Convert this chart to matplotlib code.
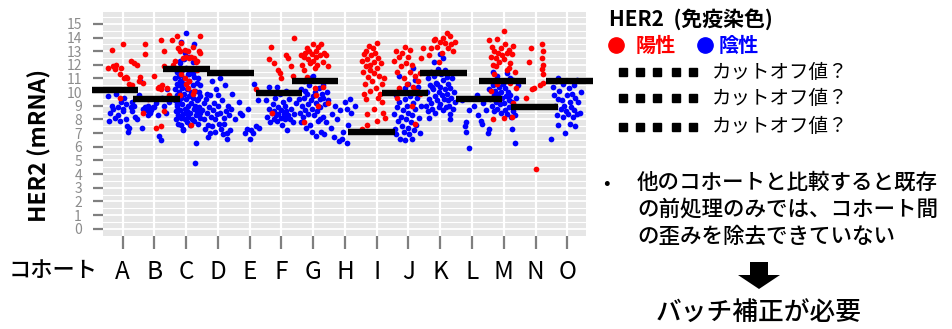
import matplotlib
matplotlib.use('Agg')
import matplotlib.pyplot as plt
from matplotlib.lines import Line2D
from matplotlib.patches import Polygon

plt.rcParams['font.family'] = ['Noto Sans CJK JP', 'DejaVu Sans']

cohorts = list("ABCDEFGHIJKLMNO")
y_ticks = list(range(16))

# each point: (horizontal jitter within cohort, HER2 mRNA value)
red_A = [(-0.45,11.8),(-0.35,13.1),(-0.3,11.9),(-0.25,11.7),(-0.2,12.0),(-0.1,11.3),(0.0,13.5),(-0.05,11.8),
         (0.05,11.0),(0.1,11.1),(0.15,11.0),(0.2,10.6),(0.25,12.3),(0.35,12.1),(0.45,12.0),(-0.1,9.6),(0.3,10.5)]
blue_A = [(-0.45,9.7),(-0.4,8.5),(-0.42,7.9),(-0.3,8.8),(-0.25,8.1),(-0.2,9.9),(-0.15,8.9),(-0.1,7.9),(-0.05,9.3),
          (0.0,8.6),(0.02,8.8),(0.05,9.6),(0.1,9.1),(0.15,7.5),(0.18,7.1),(0.2,7.4),(0.25,8.9),(0.3,8.6),(0.35,9.0),
          (0.4,8.2),(0.45,8.0),(0.5,9.8),(-0.35,9.0),(-0.15,8.3),(0.1,8.0),(0.3,9.3)]
red_B = [(-0.3,13.5),(-0.3,12.8),(0.2,13.8),(0.3,13.0),(-0.45,11.1),(-0.35,10.7),(0.0,11.2),(0.1,10.3),(0.15,10.4),
         (0.2,10.2),(0.25,10.5),(0.3,11.9),(0.4,10.3),(-0.2,9.5),(-0.35,8.5),(0.05,7.4),(0.2,7.5),(0.3,8.6),(0.45,9.8),(-0.5,10.8)]
blue_B = [(-0.45,10.8),(-0.4,7.4),(-0.35,8.8),(-0.3,8.9),(-0.25,8.7),(-0.2,9.0),(-0.15,8.5),(-0.1,8.7),(-0.05,8.9),
          (0.0,8.9),(0.05,9.2),(0.1,8.3),(0.15,6.8),(0.2,6.5),(0.25,9.6),(0.3,9.0),(0.35,8.5),(0.4,10.2),(0.45,9.3),
          (-0.2,8.3),(0.1,9.5)]
red_C = [(-0.45,13.8),(-0.3,14.1),(-0.25,13.2),(-0.2,13.0),(-0.15,13.6),(-0.1,12.5),(-0.05,13.1),(0.0,12.6),(0.05,13.0),
         (0.1,12.5),(0.15,12.6),(0.2,13.3),(0.25,12.5),(0.35,12.3),(0.4,13.0),(0.45,14.1),(0.42,12.9),(-0.35,12.3),
         (0.3,12.2),(-0.05,11.0),(0.0,10.6),(0.05,10.3),(0.1,10.8),(0.2,9.9),(0.25,10.1),(-0.2,9.8),(0.15,7.6),
         (-0.15,11.3),(0.35,11.6),(-0.4,12.0)]
blue_C = [(-0.35,11.0),(-0.35,10.2),(-0.34,9.4),(-0.33,8.6),(-0.32,8.0),(-0.3,11.5),(-0.3,10.6),(-0.29,9.8),(-0.28,9.0),
          (-0.27,8.3),(-0.25,7.7),(-0.24,11.2),(-0.23,10.0),(-0.22,9.3),(-0.2,8.7),(-0.2,12.1),(-0.18,10.8),(-0.17,9.6),
          (-0.16,8.1),(-0.15,7.6),(-0.14,11.6),(-0.13,10.3),(-0.12,9.1),(-0.1,8.4),(-0.1,7.3),(-0.08,12.4),(-0.07,11.0),
          (-0.06,9.9),(-0.05,8.8),(-0.04,8.0),(-0.02,10.6),(0.0,11.8),(0.0,9.5),(0.01,8.6),(0.02,7.8),(0.03,10.2),
          (0.05,11.3),(0.06,9.0),(0.07,8.2),(0.08,12.6),(0.1,10.8),(0.1,9.7),(0.12,8.5),(0.13,7.6),(0.14,11.5),(0.15,10.0),
          (0.16,9.2),(0.18,8.0),(0.2,12.2),(0.2,10.5),(0.22,9.6),(0.23,8.8),(0.25,7.9),(0.26,11.1),(0.28,10.1),(0.29,9.0),
          (0.3,8.3),(0.32,11.7),(0.33,10.7),(0.34,9.4),(0.35,8.6),(0.36,7.7),(0.38,11.0),(0.4,10.0),(0.4,8.9),(0.42,8.1),
          (0.43,9.7),(0.45,10.5),(0.45,8.5),(0.0,14.3),(-0.15,13.7),(0.25,13.5),(-0.05,12.9),(-0.18,12.3),(0.3,6.3),
          (0.27,4.8),(-0.1,7.2),(0.1,11.3),(-0.25,10.5),(0.2,11.4),(-0.3,9.1),(0.05,8.4),(0.38,9.5),(-0.12,10.7)]
red_D = []
blue_D = [(-0.5,8.7),(-0.45,9.2),(-0.45,8.0),(-0.4,7.3),(-0.38,9.5),(-0.35,8.5),(-0.32,7.6),(-0.3,6.7),(-0.28,8.9),
          (-0.25,9.8),(-0.22,8.2),(-0.2,10.8),(-0.18,7.5),(-0.15,8.7),(-0.12,9.2),(-0.1,8.0),(-0.08,7.1),(-0.05,10.2),
          (-0.03,8.4),(0.0,9.0),(0.02,7.7),(0.05,11.0),(0.08,8.5),(0.1,7.3),(0.12,9.4),(0.15,6.9),(0.18,8.1),(0.2,7.7),
          (0.22,10.5),(0.25,8.6),(0.3,7.0),(0.32,9.0),(0.35,8.3),(0.38,7.2),(0.42,8.8),(0.45,9.9),(-0.25,7.0),(0.28,6.6),
          (0.0,9.8),(-0.35,9.9)]
red_E = [(0.2,10.2)]
blue_E = [(-0.35,9.3),(-0.3,8.5),(-0.25,8.3),(-0.15,7.0),(-0.1,7.3),(-0.05,8.8),(0.0,6.6),(0.05,7.2),(0.1,7.0),
          (0.12,10.6),(0.2,7.5),(0.25,9.4),(-0.45,8.0),(0.3,7.4)]
red_F = [(-0.33,13.3),(-0.4,12.4),(-0.25,12.1),(0.2,12.5),(-0.1,11.6),(-0.05,11.4),(0.0,11.0),(0.3,11.9),(0.4,13.95),
         (-0.3,8.5),(0.15,12.7),(0.35,11.2)]
blue_F = [(-0.5,9.4),(-0.45,8.2),(-0.4,10.4),(-0.38,8.8),(-0.35,7.8),(-0.3,8.5),(-0.28,9.1),(-0.25,8.0),(-0.22,8.6),
          (-0.2,9.6),(-0.18,8.3),(-0.15,7.9),(-0.12,8.9),(-0.1,8.4),(-0.05,9.9),(-0.03,8.1),(0.0,8.7),(0.03,7.6),
          (0.05,9.3),(0.08,8.4),(0.1,8.0),(0.13,10.1),(0.15,8.6),(0.18,7.2),(0.2,8.3),(0.25,9.5),(0.28,8.0),(0.3,8.8),
          (0.35,7.8),(0.4,8.4),(0.45,9.2),(-0.15,10.4),(0.1,9.0)]
red_G = [(-0.4,12.7),(-0.35,12.0),(-0.3,12.6),(-0.25,12.9),(-0.2,13.2),(-0.15,12.4),(-0.12,13.0),(-0.1,12.1),
         (-0.05,12.8),(0.0,13.5),(0.0,12.3),(0.05,11.8),(0.08,13.0),(0.1,12.6),(0.12,12.0),(0.15,13.3),(0.2,12.7),
         (0.25,13.5),(0.3,12.2),(0.35,12.9),(0.4,12.7),(0.45,11.9),(-0.3,11.6),(0.05,10.3),(0.1,9.8),(0.15,9.0),
         (-0.3,7.8),(0.3,10.4),(0.45,9.2),(-0.2,11.1)]
blue_G = [(-0.45,9.5),(-0.42,8.5),(-0.4,7.8),(-0.38,10.2),(-0.35,9.0),(-0.32,8.2),(-0.3,10.8),(-0.28,9.6),(-0.25,8.7),
          (-0.22,7.4),(-0.2,9.9),(-0.18,9.1),(-0.15,8.4),(-0.12,10.5),(-0.1,7.6),(-0.08,9.4),(-0.05,8.8),(-0.03,7.1),
          (0.0,9.7),(0.02,8.3),(0.05,10.0),(0.08,6.8),(0.1,9.2),(0.12,8.6),(0.15,7.9),(0.18,10.3),(0.2,9.5),(0.22,8.9),
          (0.25,7.1),(0.28,9.9),(0.3,8.2),(0.32,9.6),(0.35,6.9),(0.38,9.1),(0.4,7.8),(0.42,10.0),(0.45,9.4),(0.0,11.2),
          (-0.1,11.0),(0.2,8.0),(-0.25,10.1),(0.3,10.5)]
red_H = []
blue_H = [(-0.45,7.4),(-0.4,8.4),(-0.35,6.7),(-0.3,9.0),(-0.25,8.0),(-0.2,6.4),(-0.15,8.7),(-0.1,6.6),(0.0,9.3),
          (0.05,8.8),(0.1,7.6),(0.15,9.5),(0.2,8.5),(0.3,9.0),(-0.05,7.1),(0.05,6.3)]
red_I = [(-0.45,12.3),(-0.42,11.5),(-0.4,12.8),(-0.38,10.6),(-0.35,11.9),(-0.33,13.0),(-0.3,12.4),(-0.28,11.1),
         (-0.25,13.4),(-0.22,12.0),(-0.2,11.6),(-0.18,12.7),(-0.15,10.8),(-0.12,13.2),(-0.1,12.2),(-0.08,11.4),
         (-0.05,12.9),(-0.03,10.3),(0.0,11.8),(0.02,13.6),(0.05,12.5),(0.08,11.2),(0.1,9.9),(0.12,12.1),(0.15,10.6),
         (0.18,9.3),(0.2,8.5),(0.22,11.0),(0.25,8.1),(-0.4,9.9),(-0.35,9.5),(-0.3,8.4),(-0.45,7.3),(-0.3,7.6),
         (-0.1,8.8),(0.0,7.9),(-0.2,10.1),(0.05,9.6)]
blue_I = []
red_J = [(-0.45,12.3),(-0.4,13.0),(-0.35,11.5),(-0.3,12.6),(-0.25,11.9),(-0.2,12.9),(-0.15,11.0),(-0.1,13.3),
         (-0.08,12.1),(-0.05,10.6),(0.0,12.6),(0.05,11.5),(0.1,12.0),(0.15,10.4),(0.2,11.2),(0.25,10.1),(0.3,10.8),
         (0.35,9.9),(0.4,12.5),(0.45,13.2),(-0.35,9.6),(0.1,9.0),(0.2,7.7),(-0.3,10.3),(0.3,10.0),(0.05,13.1),(0.35,11.4)]
blue_J = [(-0.45,8.4),(-0.42,7.3),(-0.4,9.8),(-0.38,6.9),(-0.35,8.9),(-0.32,7.9),(-0.3,9.3),(-0.28,6.6),(-0.25,8.2),
          (-0.22,7.5),(-0.2,10.0),(-0.18,8.7),(-0.15,7.1),(-0.12,9.5),(-0.1,6.5),(-0.08,8.0),(-0.05,9.0),(-0.02,7.4),
          (0.0,8.5),(0.02,6.9),(0.05,9.7),(0.08,7.8),(0.1,8.3),(0.12,6.6),(0.15,9.2),(0.18,7.2),(0.2,8.8),(0.25,7.6),
          (0.28,9.6),(0.3,10.4),(0.32,8.1),(0.35,7.0),(0.4,9.0),(-0.3,11.2),(0.0,10.6),(0.15,11.8),(-0.1,10.3),(0.2,10.9)]
red_K = [(-0.3,13.2),(-0.2,13.8),(-0.15,13.9),(-0.1,13.3),(-0.05,12.2),(0.0,13.7),(0.05,12.9),(0.1,14.0),(0.15,13.6),
         (0.2,14.3),(0.25,13.2),(0.3,14.1),(0.35,13.5),(0.4,13.0),(-0.35,12.7),(0.45,13.7)]
blue_K = [(-0.45,9.0),(-0.42,10.0),(-0.4,11.0),(-0.38,8.6),(-0.35,9.5),(-0.32,10.5),(-0.3,11.5),(-0.28,9.2),(-0.25,8.8),
          (-0.22,10.2),(-0.2,11.2),(-0.18,9.7),(-0.15,8.5),(-0.12,10.7),(-0.1,9.4),(-0.08,11.7),(-0.05,10.0),(-0.03,8.9),
          (0.0,10.4),(0.0,9.1),(0.03,11.3),(0.05,9.8),(0.08,8.7),(0.1,10.9),(0.12,9.5),(0.15,10.2),(0.18,8.9),(0.2,11.1),
          (0.22,9.9),(0.25,10.6),(0.28,9.0),(0.3,8.4),(0.32,10.3),(0.35,9.6),(0.38,11.0),(0.4,8.8),(0.42,10.0),(0.45,9.3),
          (-0.2,12.2),(0.1,12.5),(0.0,12.8),(-0.35,8.1),(0.3,8.0),(0.15,11.6),(-0.1,10.6),(0.25,9.4),(-0.25,10.4)]
red_L = []
blue_L = [(-0.2,7.8),(-0.22,7.5),(-0.2,7.1),(-0.1,5.9),(-0.1,8.7),(0.05,9.0),(0.15,9.8),(0.3,7.7),(0.28,7.9),
          (0.35,9.2),(0.4,9.5),(0.45,8.7),(0.5,7.0),(0.55,7.3),(-0.3,9.4),(0.2,8.3)]
red_M = [(-0.45,13.8),(-0.4,12.6),(-0.38,13.3),(-0.35,12.0),(-0.3,13.0),(-0.25,12.5),(-0.2,13.9),(-0.18,12.9),
         (-0.15,12.2),(-0.1,13.2),(-0.05,12.7),(0.0,14.5),(0.0,12.4),(0.05,13.5),(0.1,12.9),(0.1,11.6),(0.15,13.1),
         (0.2,12.1),(0.25,12.8),(0.3,13.4),(-0.3,11.3),(-0.2,10.6),(0.2,10.7),(0.3,9.2),(-0.35,8.0),(-0.15,9.5),
         (0.0,8.1),(0.25,8.2),(0.15,11.8),(-0.4,10.1),(0.35,11.5),(0.4,10.3),(-0.25,11.9)]
blue_M = [(-0.45,10.2),(-0.42,9.5),(-0.4,10.8),(-0.38,9.0),(-0.35,10.5),(-0.32,9.8),(-0.3,8.6),(-0.28,10.1),(-0.25,9.3),
          (-0.22,10.7),(-0.2,8.8),(-0.18,9.9),(-0.15,10.4),(-0.12,9.1),(-0.1,10.0),(-0.08,8.5),(-0.05,9.6),(-0.02,10.6),
          (0.0,9.2),(0.03,8.7),(0.05,10.3),(0.08,9.7),(0.1,8.4),(0.12,10.0),(0.15,9.4),(0.18,8.9),(0.2,9.8),(0.22,8.2),
          (0.25,9.3),(0.28,8.6),(0.3,10.9),(0.32,9.0),(0.35,8.3),(0.4,9.6),(-0.2,11.2),(0.1,11.4),(0.2,11.0),(-0.35,11.5),
          (0.25,7.3),(0.45,10.5),(0.35,6.3)]
red_N = [(-0.2,12.2),(-0.15,13.2),(-0.1,10.2),(-0.05,10.3),(0.0,4.4),(0.2,13.5),(0.22,13.0),(0.2,12.5),(0.22,12.0),
         (0.2,11.7),(0.23,11.3),(0.25,10.65),(0.15,10.5),(-0.3,9.6)]
blue_N = []
red_O = []
blue_O = [(-0.45,10.4),(-0.42,9.8),(-0.4,9.0),(-0.35,10.8),(-0.33,8.3),(-0.3,9.5),(-0.28,7.6),(-0.25,10.1),(-0.2,8.8),
          (-0.18,9.4),(-0.15,8.2),(-0.12,10.6),(-0.1,9.0),(-0.08,7.0),(-0.05,8.6),(0.0,9.8),(0.02,8.4),(0.05,10.3),
          (0.08,9.3),(0.1,7.7),(0.12,8.9),(0.15,9.9),(0.18,8.2),(0.2,10.5),(0.22,8.7),(0.25,9.6),(0.3,10.9),(0.32,8.4),
          (0.35,9.3),(0.4,8.5),(0.42,10.0),(-0.5,6.6),(0.25,7.5),(-0.3,11.0)]

red_points = {'A': red_A, 'B': red_B, 'C': red_C, 'D': red_D, 'E': red_E, 'F': red_F, 'G': red_G, 'H': red_H,
              'I': red_I, 'J': red_J, 'K': red_K, 'L': red_L, 'M': red_M, 'N': red_N, 'O': red_O}
blue_points = {'A': blue_A, 'B': blue_B, 'C': blue_C, 'D': blue_D, 'E': blue_E, 'F': blue_F, 'G': blue_G, 'H': blue_H,
               'I': blue_I, 'J': blue_J, 'K': blue_K, 'L': blue_L, 'M': blue_M, 'N': blue_N, 'O': blue_O}

# cutoff bars: cohort, value, start/end relative to cohort position
cutoff_cohorts = ['A', 'B', 'C', 'D', 'F', 'G', 'I', 'J', 'K', 'L', 'M', 'N', 'O']
cutoff_values = [10.16, 9.52, 11.7, 11.4, 9.96, 10.82, 7.06, 9.96, 11.38, 9.52, 10.82, 8.94, 10.82]
cutoff_start = [-0.97, -0.68, -0.74, -0.35, -0.81, -0.68, -0.90, -0.84, -0.63, -0.50, -0.77, -0.76, -0.66]
cutoff_end = [0.48, 0.80, 0.75, 1.14, 0.64, 0.79, 0.58, 0.61, 0.84, 0.93, 0.70, 0.70, 0.81]

W, H = 952, 329
fig = plt.figure(figsize=(W / 100, H / 100), dpi=100)
def fx(px): return px / W
def fy(py): return 1 - py / H

ax = fig.add_axes([fx(103), fy(236), fx(585.7) - fx(103), fy(12) - fy(236)])
ax.set_facecolor('#E6E6E6')
ax.set_xlim(-0.62, 14.58)
ax.set_ylim(-0.535, 15.87)
for s in ax.spines.values():
    s.set_visible(False)

ax.set_yticks(y_ticks)
ax.set_yticks([v + 0.5 for v in y_ticks[:-1]] + [15.5], minor=True)
ax.set_xticks(range(len(cohorts)))
ax.set_xticklabels(cohorts)
ax.grid(True, which='major', axis='y', color='white', lw=1.3)
ax.grid(True, which='minor', axis='y', color='white', lw=0.8)
ax.grid(True, which='major', axis='x', color='white', lw=1.6)
ax.set_axisbelow(True)
ax.tick_params(axis='y', which='major', length=7.2, width=1.6, color='#7f7f7f', labelcolor='#8c8c8c',
               labelsize=10, pad=8)
ax.tick_params(axis='y', which='minor', length=0)
ax.tick_params(axis='x', length=9.4, width=1.6, color='#7f7f7f', labelcolor='black', labelsize=17.5, pad=7)

for i, c in enumerate(cohorts):
    b = blue_points[c]
    if b:
        ax.scatter([i + d for d, v in b], [v for d, v in b], s=17, c='#0000FF', marker='o', linewidths=0, zorder=3)
for i, c in enumerate(cohorts):
    r = red_points[c]
    if r:
        ax.scatter([i + d for d, v in r], [v for d, v in r], s=17, c='#FF0000', marker='o', linewidths=0, zorder=3)

for c, v, s0, s1 in zip(cutoff_cohorts, cutoff_values, cutoff_start, cutoff_end):
    i = cohorts.index(c)
    ax.hlines(v, i + s0, i + s1, colors='black', lw=4.6, zorder=4, clip_on=False, capstyle='butt')

fig.text(fx(40), fy(145), 'HER2 (mRNA)', rotation=90, ha='center', va='center', fontsize=16.5, fontweight='bold')
fig.text(fx(9), fy(270), 'コホート', ha='left', va='center', fontsize=16, fontweight='medium')

# right side annotations
fig.text(fx(609), fy(19), 'HER2  (免疫染色)', ha='left', va='center', fontsize=15, fontweight='bold')
fig.add_artist(Line2D([fx(615.5)], [fy(45)], marker='o', color='#FF0000', markersize=11, linestyle='none'))
fig.text(fx(636), fy(45), '陽性', ha='left', va='center', fontsize=14.5, fontweight='bold', color='#FF0000')
fig.add_artist(Line2D([fx(705)], [fy(45)], marker='o', color='#0000FF', markersize=11, linestyle='none'))
fig.text(fx(719), fy(45), '陰性', ha='left', va='center', fontsize=14.5, fontweight='bold', color='#0000FF')

for yy in [72, 98, 127]:
    fig.add_artist(Line2D([fx(p) for p in [623, 640, 657, 676, 693]], [fy(yy)] * 5, marker='s',
                          color='black', markersize=5.8, linestyle='none'))
    fig.text(fx(712), fy(yy), 'カットオフ値？', ha='left', va='center', fontsize=14)

fig.text(fx(603), fy(183), '•', ha='left', va='center', fontsize=14)
fig.text(fx(637), fy(183), '他のコホートと比較すると既存', ha='left', va='center', fontsize=15.5, fontweight='medium')
fig.text(fx(637), fy(210), 'の前処理のみでは、コホート間', ha='left', va='center', fontsize=15.5, fontweight='medium')
fig.text(fx(637), fy(237), 'の歪みを除去できていない', ha='left', va='center', fontsize=15.5, fontweight='medium')

arrow = [(750, 262), (768, 262), (768, 275), (780, 275), (759, 289), (738, 275), (750, 275)]
fig.patches.append(Polygon([(fx(a), fy(b)) for a, b in arrow], closed=True, facecolor='black',
                           edgecolor='none', transform=fig.transFigure, figure=fig))

fig.text(fx(759), fy(313), 'バッチ補正が必要', ha='center', va='center', fontsize=18.5, fontweight='medium')

fig.savefig('out.png', dpi=100)
